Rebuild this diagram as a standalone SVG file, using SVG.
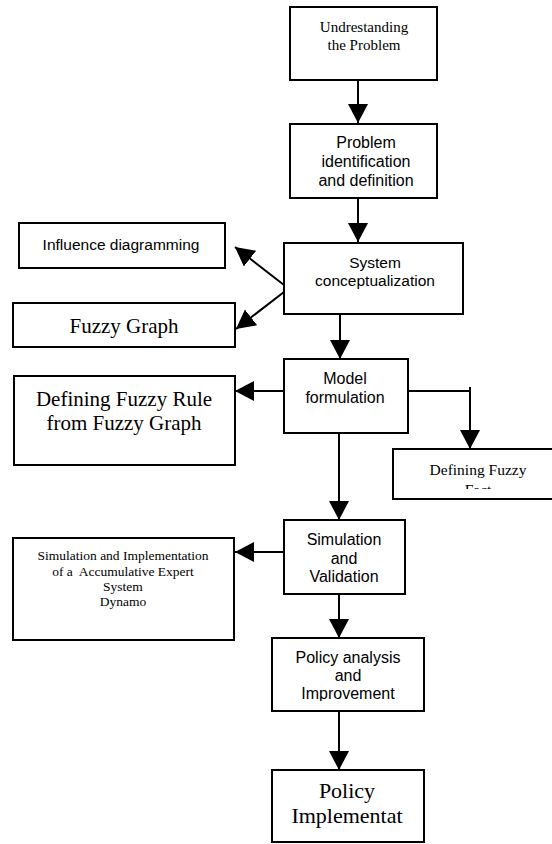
<svg xmlns="http://www.w3.org/2000/svg" width="552" height="844" viewBox="0 0 552 844">
<defs>
<marker id="ah" viewBox="0 0 19 20" refX="19" refY="10" markerWidth="19" markerHeight="20" markerUnits="userSpaceOnUse" orient="auto">
<path d="M0,0 L19,10 L0,20 z" fill="#000"/>
</marker>
<clipPath id="clipFact"><rect x="393" y="449" width="159" height="40"/></clipPath>
<clipPath id="clipPol"><rect x="272" y="638" width="152" height="63"/></clipPath>
</defs>
<style>
.box{fill:#fff;stroke:#000;stroke-width:2}
.sans{font-family:"Liberation Sans",Arial,sans-serif;fill:#000;text-anchor:middle}
.serif{font-family:"Liberation Serif","Times New Roman",serif;fill:#000;text-anchor:middle}
.conn{stroke:#000;stroke-width:2;fill:none}
</style>
<rect width="552" height="844" fill="#fff"/>
<g id="connectors">
<path class="conn" d="M358,80 V123" marker-end="url(#ah)"/>
<path class="conn" d="M358,198 V242" marker-end="url(#ah)"/>
<path class="conn" d="M284,285 L235,247" marker-end="url(#ah)"/>
<path class="conn" d="M284,292 L236,329" marker-end="url(#ah)"/>
<path class="conn" d="M340,314 V359" marker-end="url(#ah)"/>
<path class="conn" d="M284,391 H235" marker-end="url(#ah)"/>
<path class="conn" d="M408,391 H470"/>
<path class="conn" d="M470,387 V449" marker-end="url(#ah)"/>
<path class="conn" d="M339,433 V520" marker-end="url(#ah)"/>
<path class="conn" d="M284,552 H235" marker-end="url(#ah)"/>
<path class="conn" d="M339,594 V638" marker-end="url(#ah)"/>
<path class="conn" d="M339,711 V770" marker-end="url(#ah)"/>
</g>
<g id="n-understanding">
<rect class="box" x="290" y="7" width="147" height="73"/>
<text class="serif" font-size="15" x="364" y="32">Undrestanding</text>
<text class="serif" font-size="15" x="364" y="50">the Problem</text>
</g>
<g id="n-problem">
<rect class="box" x="290" y="124" width="147" height="74"/>
<text class="sans" font-size="16" x="366" y="148">Problem</text>
<text class="sans" font-size="16" x="366" y="167">identification</text>
<text class="sans" font-size="16" x="366" y="186">and definition</text>
</g>
<g id="n-system">
<rect class="box" x="284" y="243" width="179" height="71"/>
<text class="sans" font-size="15.5" x="375" y="268">System</text>
<text class="sans" font-size="15.5" x="375" y="286">conceptualization</text>
</g>
<g id="n-influence">
<rect class="box" x="19" y="223" width="206" height="45"/>
<text class="sans" font-size="15.5" x="121" y="250">Influence diagramming</text>
</g>
<g id="n-fuzzygraph">
<rect class="box" x="13" y="303" width="222" height="44"/>
<text class="serif" font-size="21" x="124" y="333">Fuzzy Graph</text>
</g>
<g id="n-model">
<rect class="box" x="284" y="359" width="124" height="74"/>
<text class="sans" font-size="16" x="345" y="384">Model</text>
<text class="sans" font-size="16" x="345" y="403">formulation</text>
</g>
<g id="n-rule">
<rect class="box" x="14" y="376" width="221" height="89"/>
<text class="serif" font-size="21" x="124" y="406">Defining Fuzzy Rule</text>
<text class="serif" font-size="21" x="124" y="430">from Fuzzy Graph</text>
</g>
<g id="n-fact">
<rect class="box" x="393" y="449" width="170" height="50"/>
<g clip-path="url(#clipFact)">
<text class="serif" font-size="15.5" x="478" y="475">Defining Fuzzy</text>
<text class="serif" font-size="15.5" x="478" y="495">Fact</text>
</g>
</g>
<g id="n-simulation">
<rect class="box" x="284" y="520" width="121" height="74"/>
<text class="sans" font-size="16" x="344" y="545">Simulation</text>
<text class="sans" font-size="16" x="344" y="564">and</text>
<text class="sans" font-size="16" x="344" y="582">Validation</text>
</g>
<g id="n-expert">
<rect class="box" x="13" y="538" width="221" height="102"/>
<text class="serif" font-size="13.5" x="123" y="560">Simulation and Implementation</text>
<text class="serif" font-size="13.5" x="123" y="576" xml:space="preserve">of a  Accumulative Expert</text>
<text class="serif" font-size="13.5" x="123" y="591">System</text>
<text class="serif" font-size="13.5" x="123" y="606">Dynamo</text>
</g>
<g id="n-policy">
<rect class="box" x="272" y="638" width="152" height="73"/>
<g clip-path="url(#clipPol)">
<text class="sans" font-size="16" x="348" y="663">Policy analysis</text>
<text class="sans" font-size="16" x="348" y="681">and</text>
<text class="sans" font-size="16" x="348" y="699">Improvement</text>
</g>
</g>
<g id="n-implement">
<rect class="box" x="272" y="770" width="152" height="72"/>
<text class="serif" font-size="22" x="347" y="798">Policy</text>
<text class="serif" font-size="22" x="347" y="823">Implementat</text>
</g>
</svg>
